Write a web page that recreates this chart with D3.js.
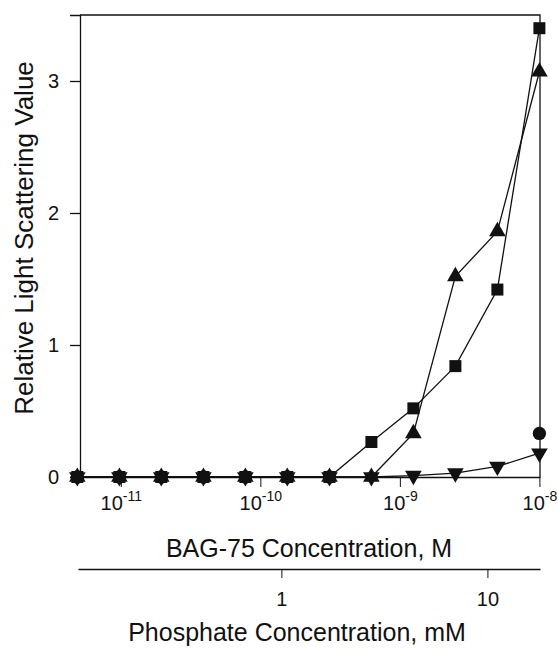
<!doctype html>
<html lang="en">
<head>
<meta charset="utf-8">
<style>
	body{margin:0;background:#fff;}
	svg text{font-family:"Liberation Sans",Arial,sans-serif;fill:#111;}
</style>
</head>
<body>
<div id="grafico"></div>
<script src="https://d3js.org/d3.v7.min.js"></script>
<script>

// BAG-75 concentration (M), two-fold dilutions
var concentracion = [4.88e-12, 9.77e-12, 1.95e-11, 3.91e-11, 7.81e-11, 1.56e-10, 3.13e-10, 6.25e-10, 1.25e-9, 2.5e-9, 5e-9, 1e-8];

var cuadrados  = [0, 0, 0, 0, 0, 0, 0, 0.265, 0.52, 0.84, 1.42, 3.40];
var triangulos = [0, 0, 0, 0, 0, 0, 0, 0, 0.33, 1.52, 1.86, 3.07];
var invertidos = [0, 0, 0, 0, 0, 0, 0, 0, 0.01, 0.03, 0.08, 0.18];
var circulos   = [0, 0, 0, 0, 0, 0, 0, null, null, null, null, 0.33];

var ticksY = [0, 1, 2, 3];
var ticksX = [-11, -10, -9, -8];
var ticksFosfato = [1, 10];

var w = 558, h = 648;
var izq = 80, der = 540, arriba = 15, abajo = 477;

var svg = d3.select("#grafico").append("svg").attr("width", w).attr("height", h);

var x = d3.scaleLog().domain([5.1e-12, 1.01e-8]).range([izq, der]);
var y = d3.scaleLinear().domain([0, 3.5]).range([abajo, arriba]);
var xf = d3.scaleLog().domain([0.103, 18]).range([78, der]);

// marco superior y derecho
svg.append("path").attr("d", "M" + izq + "," + arriba + "H" + der + "V" + abajo)
	.attr("fill", "none").attr("stroke", "#111").attr("stroke-width", 1.3);

// eje Y
var ejeY = svg.append("g").attr("transform", "translate(" + izq + ",0)")
	.call(d3.axisLeft(y).tickValues(ticksY).tickSize(10).tickPadding(11).tickFormat(d3.format("d")));
ejeY.select(".domain").attr("stroke", "#111").attr("stroke-width", 1.3);
ejeY.selectAll(".tick line").attr("stroke", "#111").attr("stroke-width", 1.3);
ejeY.selectAll(".tick text").style("font-size", "20px").attr("fill", "#111");

// eje X (BAG-75)
var ejeX = svg.append("g").attr("transform", "translate(0," + abajo + ")")
	.call(d3.axisBottom(x).tickValues(ticksX.map(function(e){ return Math.pow(10, e); })).tickSize(10).tickSizeOuter(0).tickFormat(""));
ejeX.select(".domain").attr("stroke", "#111").attr("stroke-width", 1.3);
ejeX.selectAll(".tick line").attr("stroke", "#111").attr("stroke-width", 1);
ejeX.selectAll(".tick").each(function(d, i){
	var t = d3.select(this).append("text").attr("y", 33).attr("text-anchor", "middle").style("font-size", "20px");
	t.append("tspan").text("10");
	t.append("tspan").text(ticksX[i]).attr("dy", -9).style("font-size", "14px");
});

svg.append("text").attr("x", 309).attr("y", 557).attr("text-anchor", "middle")
	.style("font-size", "25px").text("BAG-75 Concentration, M");

// eje fosfato
var ejeF = svg.append("g").attr("transform", "translate(0,569)")
	.call(d3.axisBottom(xf).tickValues(ticksFosfato).tickSize(9).tickSizeOuter(0).tickPadding(14).tickFormat(d3.format("d")));
ejeF.select(".domain").attr("stroke", "#111").attr("stroke-width", 1.3);
ejeF.selectAll(".tick line").attr("stroke", "#111").attr("stroke-width", 1);
ejeF.selectAll(".tick text").style("font-size", "20px").attr("fill", "#111");

svg.append("text").attr("x", 297).attr("y", 641).attr("text-anchor", "middle")
	.style("font-size", "25px").text("Phosphate Concentration, mM");

svg.append("text").attr("transform", "translate(33,238) rotate(-90)").attr("text-anchor", "middle")
	.style("font-size", "26px").text("Relative Light Scattering Value");

// series
var series = [
	{valores: cuadrados, simbolo: d3.symbolSquare, tam: 144, giro: 0},
	{valores: triangulos, simbolo: d3.symbolTriangle, tam: 120, giro: 0},
	{valores: invertidos, simbolo: d3.symbolTriangle, tam: 120, giro: 180},
	{valores: circulos, simbolo: d3.symbolCircle, tam: 140, giro: 0}
];

var linea = d3.line()
	.defined(function(d){ return d[1] !== null; })
	.x(function(d){ return x(d[0]); })
	.y(function(d){ return y(d[1]); });

series.forEach(function(s){
	var puntos = concentracion.map(function(c, i){ return [c, s.valores[i]]; });
	svg.append("path").datum(puntos).attr("d", linea)
		.attr("fill", "none").attr("stroke", "#111").attr("stroke-width", 1.3);
});

series.forEach(function(s){
	var puntos = concentracion.map(function(c, i){ return [c, s.valores[i]]; }).filter(function(d){ return d[1] !== null; });
	svg.append("g").selectAll("path").data(puntos).enter().append("path")
		.attr("d", d3.symbol().type(s.simbolo).size(s.tam))
		.attr("transform", function(d){ return "translate(" + x(d[0]) + "," + y(d[1]) + ") rotate(" + s.giro + ")"; })
		.attr("fill", "#111");
});

</script>
</body>
</html>
